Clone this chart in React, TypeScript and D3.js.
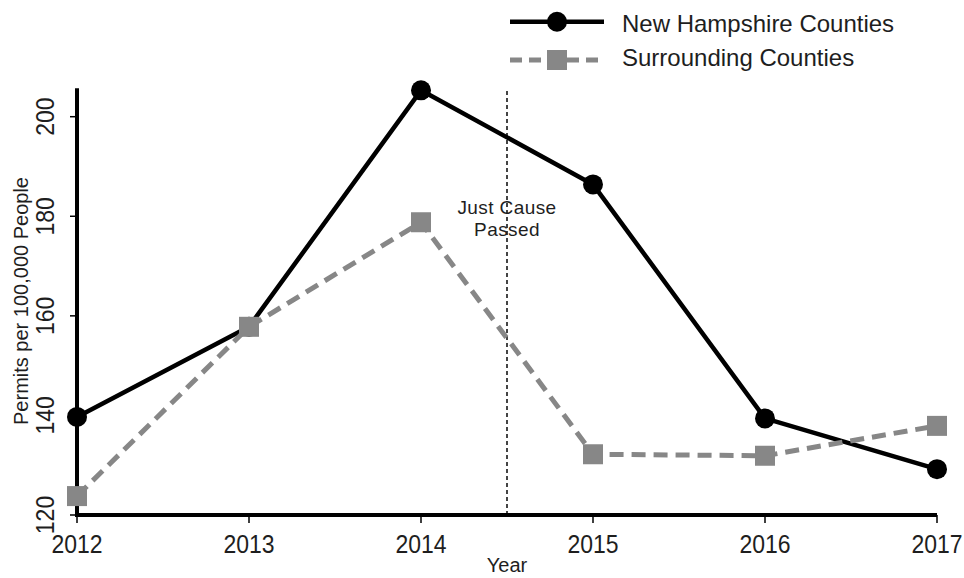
import React from "react";
import * as d3 from "d3";

const years = [2012, 2013, 2014, 2015, 2016, 2017];
const nhValues = [139.7, 157.8, 205.3, 186.4, 139.4, 129.2];
const surroundingValues = [123.8, 157.8, 178.8, 132.2, 131.9, 137.9];
const yTicks = [120, 140, 160, 180, 200];
const seriesNames = ["New Hampshire Counties", "Surrounding Counties"];
const eventYear = 2014.5;
const eventLabel = ["Just Cause", "Passed"];
const xTitle = "Year";
const yTitle = "Permits per 100,000 People";

const W = 964;
const H = 578;
const FONT = "'Liberation Sans', Arial, sans-serif";
const GRAY = "#878787";
const TEXT = "#1e1e1e";

export default function App() {
  const x = d3.scaleLinear().domain([2012, 2017]).range([77, 937]);
  const y = d3.scaleLinear().domain([120, 200]).range([515, 116.7]);
  const yMax = d3.max(nhValues.concat(surroundingValues)) as number;

  const lineGen = d3
    .line<[number, number]>()
    .x((d) => x(d[0]))
    .y((d) => y(d[1]));

  const nhPts: [number, number][] = years.map((yr, i) => [yr, nhValues[i]]);
  const srPts: [number, number][] = years.map((yr, i) => [yr, surroundingValues[i]]);

  const sq = 20;

  return (
    <svg
      width={W}
      height={H}
      style={{ position: "absolute", left: 0, top: 0, background: "#fff" }}
      fontFamily={FONT}
    >
      <rect x={0} y={0} width={W} height={H} fill="#fff" />
      {/* event line */}
      <line
        x1={x(eventYear)}
        x2={x(eventYear)}
        y1={y(120)}
        y2={y(yMax) - 2}
        stroke="#444"
        strokeWidth={2}
        strokeDasharray="4 3"
      />
      <text x={x(eventYear)} y={214} textAnchor="middle" fontSize={19} letterSpacing={0.4} fill={TEXT}>
        {eventLabel[0]}
      </text>
      <text x={x(eventYear)} y={235.5} textAnchor="middle" fontSize={19} letterSpacing={0.4} fill={TEXT}>
        {eventLabel[1]}
      </text>

      {/* axes */}
      <line x1={x(2012)} x2={x(2012)} y1={y(120) + 2} y2={y(yMax) - 2} stroke="#000" strokeWidth={4} />
      <line x1={x(2012) - 2} x2={x(2017)} y1={y(120)} y2={y(120)} stroke="#000" strokeWidth={4} />
      {yTicks.map((t) => (
        <g key={"yt" + t}>
          <line x1={x(2012) - 7} x2={x(2012)} y1={y(t)} y2={y(t)} stroke="#000" strokeWidth={1.5} />
          <text
            transform={`translate(54,${y(t)}) rotate(-90) scale(1,1.15)`}
            textAnchor="middle"
            fontSize={23}
            fill={TEXT}
          >
            {t}
          </text>
        </g>
      ))}
      {years.map((yr) => (
        <g key={"xt" + yr}>
          <line x1={x(yr)} x2={x(yr)} y1={y(120)} y2={y(120) + 8} stroke="#000" strokeWidth={1.5} />
          <text
            transform={`translate(${x(yr)},553) scale(1,1.15)`}
            textAnchor="middle"
            fontSize={23}
            fill={TEXT}
          >
            {yr}
          </text>
        </g>
      ))}
      <text x={x(eventYear)} y={572} textAnchor="middle" fontSize={20} fill={TEXT}>
        {xTitle}
      </text>
      <text
        transform={`translate(28,301) rotate(-90)`}
        textAnchor="middle"
        fontSize={20}
        fill={TEXT}
      >
        {yTitle}
      </text>

      {/* NH series */}
      <path d={lineGen(nhPts) || ""} fill="none" stroke="#000" strokeWidth={4.5} strokeLinejoin="round" />
      {nhPts.map((p, i) => (
        <circle key={"c" + i} cx={x(p[0])} cy={y(p[1])} r={10} fill="#000" />
      ))}
      {/* Surrounding series */}
      <path d={lineGen(srPts) || ""} fill="none" stroke={GRAY} strokeWidth={5} strokeDasharray="14 8" />
      {srPts.map((p, i) => (
        <rect
          key={"s" + i}
          x={x(p[0]) - sq / 2}
          y={y(p[1]) - sq / 2}
          width={sq}
          height={sq}
          fill={GRAY}
        />
      ))}

      {/* legend */}
      <line x1={510} x2={604} y1={21.7} y2={21.7} stroke="#000" strokeWidth={4.5} />
      <circle cx={557} cy={21.7} r={10} fill="#000" />
      <text x={622} y={32} fontSize={24} fill={TEXT}>
        {seriesNames[0]}
      </text>
      <line x1={510} x2={604} y1={60} y2={60} stroke={GRAY} strokeWidth={5} strokeDasharray="12 7" />
      <rect x={557 - sq / 2} y={60 - sq / 2} width={sq} height={sq} fill={GRAY} />
      <text x={622} y={66} fontSize={24} fill={TEXT}>
        {seriesNames[1]}
      </text>
    </svg>
  );
}
